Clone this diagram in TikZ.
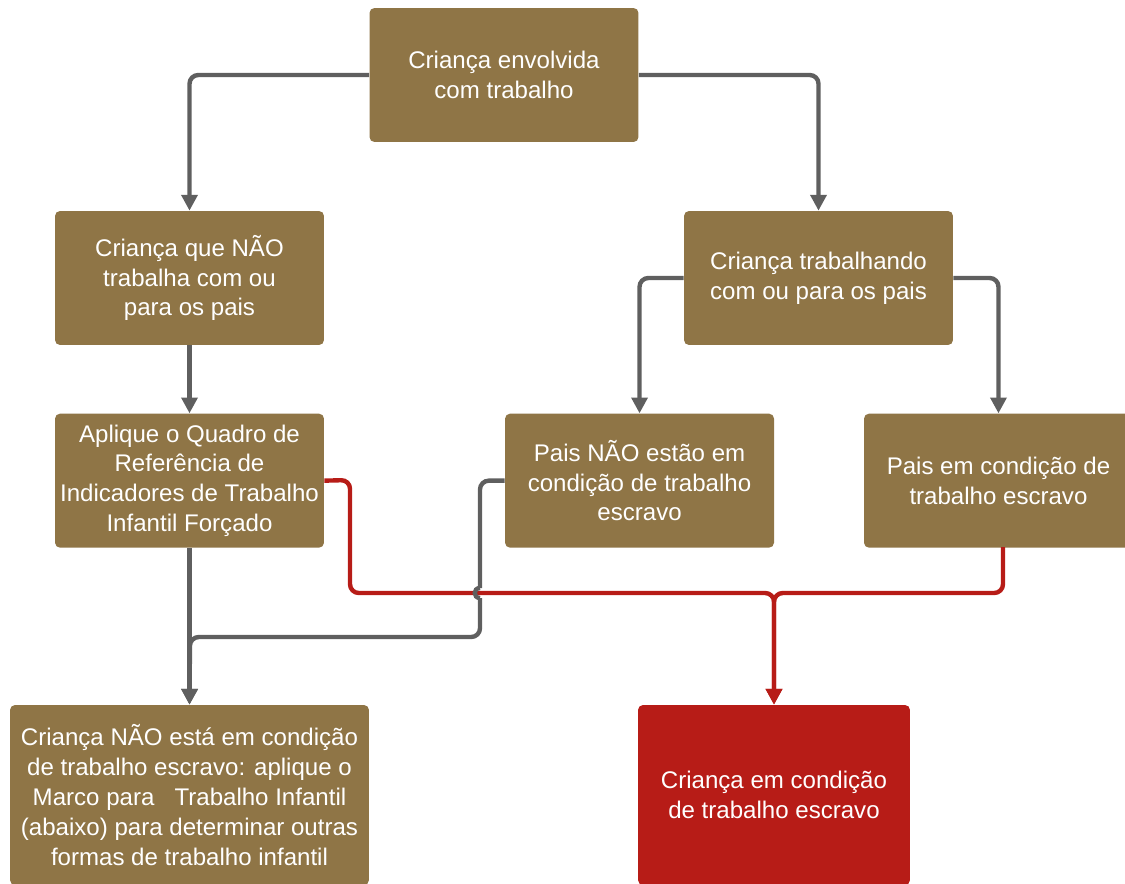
\documentclass[tikz,border=0pt]{standalone}
\usepackage{fontspec}
\setmainfont{Liberation Sans}
\usetikzlibrary{positioning,arrows.meta}
\definecolor{boxbrown}{RGB}{143,117,70}
\definecolor{boxred}{RGB}{183,28,23}
\definecolor{linegray}{RGB}{95,95,95}

\begin{document}
\begin{tikzpicture}[
        x=0.02cm, y=-0.02cm,
        node distance=1.36cm,
        every node/.style={font=\fontsize{13.7}{17}\selectfont},
        process/.style={rectangle, rounded corners=2.8pt, fill=boxbrown, text=white, align=center, minimum width=5.38cm, minimum height=2.68cm, inner sep=2pt},
        danger/.style={process, fill=boxred},
        line/.style={draw=linegray, line width=2.5pt, rounded corners=5pt, -{Triangle[length=9pt,width=9pt]}},
        redline/.style={line, draw=boxred}
    ]
        \useasboundingbox (0,0) rectangle (1125,883);
        \clip (0,0) rectangle (1125,883);
        \node[process] (root) at (504,75) {Criança envolvida\\com trabalho};
        \node[process] (notparents) at (189.5,278) {Criança que NÃO\\trabalha com ou\\para os pais};
        \node[process] (parents) at (818.5,278) {Criança trabalhando\\com ou para os pais};
        \node[process, below=of notparents] (framework) {Aplique o Quadro de\\Referência de\\Indicadores de Trabalho\\Infantil Forçado};
        \node[process, below=of parents, xshift=-3.58cm] (parentsfree) {Pais NÃO estão em\\condição de trabalho\\escravo};
        \node[process, below=of parents, xshift=3.6cm] (parentsslave) {Pais em condição de\\trabalho escravo};
        \node[process, minimum width=7.18cm, minimum height=3.6cm] (notslave) at (189.5,795) {Criança NÃO está em condição\\de trabalho escravo: aplique o\\Marco para \ \ Trabalho Infantil\\(abaixo) para determinar outras\\formas de trabalho infantil};
        \node[danger, minimum width=5.44cm, minimum height=3.6cm] (slave) at (774,795) {Criança em condição\\de trabalho escravo};
        \coordinate (hopin) at (480,588);
        \coordinate (hopout) at (480,598);
        \coordinate (grayjoin) at (190,637);
        \coordinate (redjoin) at (774,593);
        \coordinate (redout) at (1003,547);
        \draw[line] (root.west) -| (notparents.north);
        \draw[line] (root.east) -| (parents.north);
        \draw[line] (notparents) -- (framework);
        \draw[line] (parents.west) -| (parentsfree.north);
        \draw[line] (parents.east) -| (parentsslave.north);
        \draw[line] (framework) -- (notslave);
        \draw[redline] (framework.east) -- (350,480) |- (redjoin) -- (slave.north);
        \draw[redline] (redout) |- (redjoin) -- (slave.north);
        \draw[line, -] (parentsfree.west) -| (hopin);
        \draw[line, -, sharp corners] (hopin) .. controls +(-7,0) and +(-7,0) .. (hopout);
        \draw[line] (hopout) |- (grayjoin) -- (notslave.north);
    \end{tikzpicture}
\end{document}
